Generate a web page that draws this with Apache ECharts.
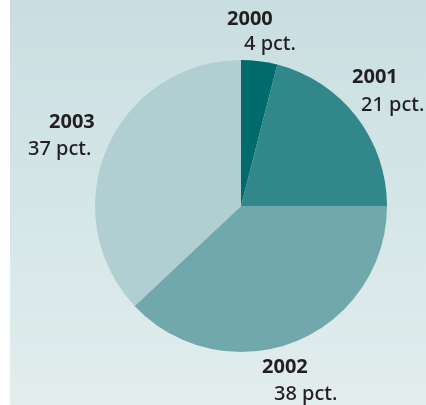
<!DOCTYPE html>
<html><head><meta charset="utf-8">
<script src="https://cdn.jsdelivr.net/npm/echarts@6/dist/echarts.min.js"></script>
<style>html,body{margin:0;padding:0;background:#fff}#c{width:426px;height:405px}</style>
</head><body><div id="c"></div>
<script>
const years = ['2000', '2001', '2002', '2003'];
const shares = [4, 21, 38, 37];
const sliceColors = ['#006b6d', '#32878b', '#70a8ac', '#b1cfd3'];

// label placement (left x of label box, vertical middle y), second-line indent, line height
const labelPos = [
  {x: 227, y: 31.5, pad1: 0, pad2: 17, lh: 25},
  {x: 352, y: 91.5, pad1: 0, pad2: 9, lh: 28},
  {x: 262, y: 381, pad1: 0, pad2: 12, lh: 27},
  {x: 28, y: 135.5, pad1: 21, pad2: 0, lh: 27}
];

const chart = echarts.init(document.getElementById('c'), null, {renderer: 'canvas'});
const data = years.map((y, i) => ({
  name: y,
  value: shares[i],
  itemStyle: {color: sliceColors[i]},
  label: {
    rich: {
      a: {fontFamily: 'Noto Sans', fontWeight: 'bold', fontSize: 20, color: '#231f20', lineHeight: labelPos[i].lh, padding: [0, 0, 0, labelPos[i].pad1]},
      b: {fontFamily: 'Noto Sans', fontWeight: 500, fontSize: 20, color: '#231f20', lineHeight: labelPos[i].lh, padding: [0, 0, 0, labelPos[i].pad2]}
    }
  }
}));

chart.setOption({
  backgroundColor: '#ffffff',
  animation: false,
  graphic: [{
    type: 'rect', z: -10, silent: true,
    shape: {x: 10, y: 0, width: 416, height: 405},
    style: {fill: new echarts.graphic.LinearGradient(0, 0, 0, 1, [
      {offset: 0, color: '#c9dee1'},
      {offset: 1, color: '#e2eded'}
    ])}
  }],
  series: [{
    type: 'pie',
    center: [241, 206],
    radius: [0, 146],
    startAngle: 90,
    clockwise: true,
    avoidLabelOverlap: false,
    labelLine: {show: false},
    label: {
      show: true,
      position: 'outside',
      formatter: p => '{a|' + p.name + '}\n{b|' + p.value + ' pct.}'
    },
    labelLayout: params => ({
      x: labelPos[params.dataIndex].x,
      y: labelPos[params.dataIndex].y,
      align: 'left',
      verticalAlign: 'middle',
      hideOverlap: false,
      moveOverlap: null
    }),
    emphasis: {disabled: true},
    data: data
  }]
});
</script></body></html>
